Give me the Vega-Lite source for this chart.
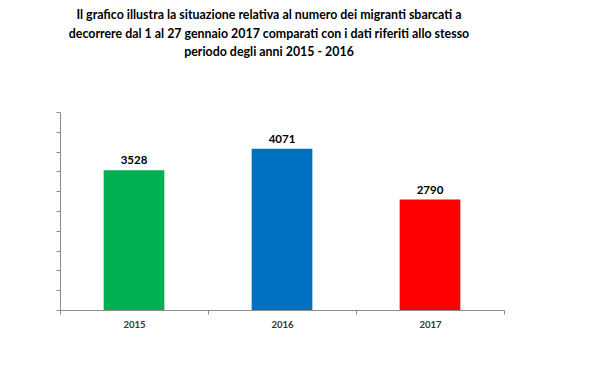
{
  "$schema": "https://vega.github.io/schema/vega-lite/v6.json",
  "width": 444,
  "height": 198,
  "autosize": {"type": "none"},
  "padding": {"left": 60, "top": 112, "right": 100, "bottom": 68},
  "background": "white",
  "title": {
    "text": ["Il grafico illustra la situazione relativa al numero dei migranti sbarcati a", "decorrere dal 1 al 27 gennaio 2017 comparati con i dati riferiti allo stesso", "periodo degli anni 2015 - 2016"],
    "font": "Lato",
    "fontSize": 12.4,
    "fontWeight": "bold",
    "color": "#000000",
    "lineHeight": 18.5,
    "anchor": "middle",
    "dx": -13,
    "offset": 53
  },
  "data": {"values": [
    {"anno": "2015", "migranti": 3528, "colore": "#00B050"},
    {"anno": "2016", "migranti": 4071, "colore": "#0070C0"},
    {"anno": "2017", "migranti": 2790, "colore": "#FF0000"}
  ]},
  "encoding": {
    "x": {"field": "anno", "type": "nominal", "sort": null,
      "scale": {"paddingInner": 0, "paddingOuter": 0},
      "axis": {"title": null, "labelAngle": 0, "tickBand": "extent", "domainColor": "#8c8c8c", "tickColor": "#8c8c8c", "tickSize": 4, "labelFont": "Lato", "labelFontSize": 9.5, "labelFontWeight": "bold", "labelColor": "#333333", "labelPadding": 5}},
    "y": {"field": "migranti", "type": "quantitative",
      "scale": {"domain": [0, 5000]},
      "axis": {"title": null, "labels": false, "grid": false, "values": [0,500,1000,1500,2000,2500,3000,3500,4000,4500,5000], "domainColor": "#8c8c8c", "tickColor": "#8c8c8c", "tickSize": 4}}
  },
  "layer": [
    {"mark": {"type": "bar", "width": {"band": 0.41}},
     "encoding": {"color": {"field": "colore", "type": "nominal", "scale": null}}},
    {"mark": {"type": "text", "baseline": "bottom", "dy": -4, "font": "Lato", "fontSize": 11.5, "fontWeight": "bold", "color": "#000000"},
     "encoding": {"text": {"field": "migranti", "type": "quantitative"}}}
  ],
  "config": {"view": {"stroke": null}}
}
